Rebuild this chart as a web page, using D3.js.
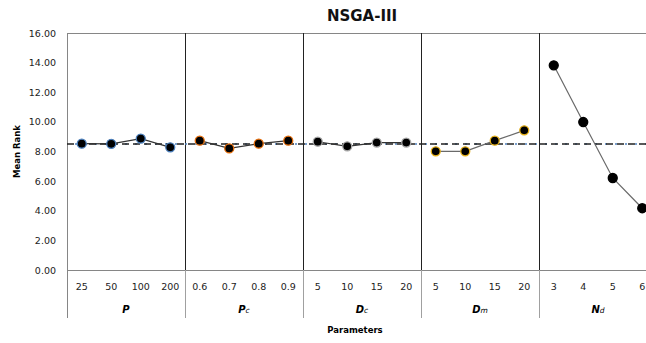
<!DOCTYPE html>
<html>
<head>
<meta charset="utf-8">
<script src="https://cdn.jsdelivr.net/npm/d3@7"></script>
<style>
  body { margin: 0; background: #fff; }
  svg { font-family: "DejaVu Sans", Verdana, sans-serif; }
</style>
</head>
<body>
<svg id="chart" width="646" height="343"></svg>
<script>
// parameter groups, their levels and mean ranks
var groups = [
  { key: 'P',  main: 'P', sub: '',  color: '#4a7ebb' },
  { key: 'Pc', main: 'P', sub: 'c', color: '#e46c0a' },
  { key: 'Dc', main: 'D', sub: 'c', color: '#a6a6a6' },
  { key: 'Dm', main: 'D', sub: 'm', color: '#e6b017' },
  { key: 'Nd', main: 'N', sub: 'd', color: '#000000' }
]
var levels = {
  P:  ['25', '50', '100', '200'],
  Pc: ['0.6', '0.7', '0.8', '0.9'],
  Dc: ['5', '10', '15', '20'],
  Dm: ['5', '10', '15', '20'],
  Nd: ['3', '4', '5', '6']
}
var meanRank = {
  P:  [8.53, 8.52, 8.87, 8.28],
  Pc: [8.73, 8.21, 8.53, 8.73],
  Dc: [8.66, 8.35, 8.60, 8.60],
  Dm: [8.01, 8.01, 8.73, 9.43],
  Nd: [13.82, 9.99, 6.21, 4.17]
}
var overallMean = 8.5
var yTicks = [0, 2, 4, 6, 8, 10, 12, 14, 16]

var svg = d3.select('#chart')
var plotLeft = 67, plotRight = 657, plotTop = 33, plotBottom = 270, bottomExt = 318

// flat list of every point
var points = []
groups.forEach(function(g) {
  levels[g.key].forEach(function(l, i) {
    points.push({ group: g.key, level: l, value: meanRank[g.key][i], color: g.color, id: g.key + '|' + l })
  })
})

var x = d3.scaleBand().domain(points.map(d => d.id)).range([plotLeft, plotRight])
var xg = d3.scaleBand().domain(groups.map(d => d.key)).range([plotLeft, plotRight])
var y = d3.scaleLinear().domain([0, 16]).range([plotBottom, plotTop])

// frame
svg.append('line').attr('x1', plotLeft).attr('x2', plotRight).attr('y1', plotTop + 0.5).attr('y2', plotTop + 0.5)
  .attr('stroke', '#868686').attr('stroke-width', 1)
svg.append('line').attr('x1', plotLeft).attr('x2', plotRight).attr('y1', plotBottom + 0.5).attr('y2', plotBottom + 0.5)
  .attr('stroke', '#868686').attr('stroke-width', 1)
svg.append('line').attr('x1', plotLeft + 0.5).attr('x2', plotLeft + 0.5).attr('y1', plotTop).attr('y2', bottomExt)
  .attr('stroke', '#868686').attr('stroke-width', 1)

// group dividers
groups.slice(1).forEach(function(g) {
  var gx = Math.round(xg(g.key)) + 0.5
  svg.append('line').attr('x1', gx).attr('x2', gx).attr('y1', plotTop).attr('y2', plotBottom)
    .attr('stroke', '#222').attr('stroke-width', 1)
  svg.append('line').attr('x1', gx).attr('x2', gx).attr('y1', plotBottom).attr('y2', bottomExt)
    .attr('stroke', '#a0a0a0').attr('stroke-width', 1)
})

// y axis labels
svg.append('g').selectAll('text').data(yTicks).enter().append('text')
  .attr('x', 56).attr('y', d => y(d) + 3.5)
  .attr('text-anchor', 'end')
  .attr('font-size', 9.5).attr('fill', '#222')
  .text(d => d3.format('.2f')(d))

svg.append('text')
  .attr('transform', 'translate(20,' + ((plotTop + plotBottom) / 2) + ') rotate(-90)')
  .attr('text-anchor', 'middle').attr('font-size', 8.5).attr('font-weight', 'bold')
  .text('Mean Rank')

// overall mean line
svg.append('line').attr('x1', plotLeft).attr('x2', plotRight).attr('y1', y(overallMean)).attr('y2', y(overallMean))
  .attr('stroke', '#4f81bd').attr('stroke-width', 1.5).attr('stroke-dasharray', '2,8').attr('stroke-dashoffset', -8)
svg.append('line').attr('x1', plotLeft).attr('x2', plotRight).attr('y1', y(overallMean)).attr('y2', y(overallMean))
  .attr('stroke', '#222').attr('stroke-width', 1.5).attr('stroke-dasharray', '7,4')

// connecting lines per group
var line = d3.line().x(d => x(d.id) + x.bandwidth() / 2).y(d => y(d.value))
groups.forEach(function(g) {
  svg.append('path').datum(points.filter(p => p.group === g.key))
    .attr('d', line).attr('fill', 'none')
    .attr('stroke', g.key === 'Nd' || g.key === 'Dm' ? '#6a6a6a' : '#333').attr('stroke-width', 1.2)
})

// markers
svg.append('g').selectAll('circle').data(points).enter().append('circle')
  .attr('cx', d => x(d.id) + x.bandwidth() / 2)
  .attr('cy', d => y(d.value))
  .attr('r', 4.5)
  .attr('fill', '#000')
  .attr('stroke', d => d.color)
  .attr('stroke-width', 1.3)

// level tick labels
svg.append('g').selectAll('text').data(points).enter().append('text')
  .attr('x', d => x(d.id) + x.bandwidth() / 2)
  .attr('y', 290)
  .attr('text-anchor', 'middle').attr('font-size', 9.5).attr('fill', '#222')
  .text(d => d.level)

// group labels
var gl = svg.append('g').selectAll('text').data(groups).enter().append('text')
  .attr('x', d => xg(d.key) + xg.bandwidth() / 2)
  .attr('y', 313)
  .attr('text-anchor', 'middle')
  .attr('font-size', 10).attr('font-weight', 'bold').attr('font-style', 'italic')
gl.append('tspan').text(d => d.main)
gl.append('tspan').attr('font-size', 7.5).attr('font-weight', 'normal').text(d => d.sub)

svg.append('text').attr('x', 355).attr('y', 333).attr('text-anchor', 'middle')
  .attr('font-size', 8.5).attr('font-weight', 'bold').text('Parameters')

svg.append('text').attr('x', 362).attr('y', 21).attr('text-anchor', 'middle')
  .attr('font-size', 15).attr('font-weight', 'bold').attr('fill', '#111').text('NSGA-III')
</script>
</body>
</html>
